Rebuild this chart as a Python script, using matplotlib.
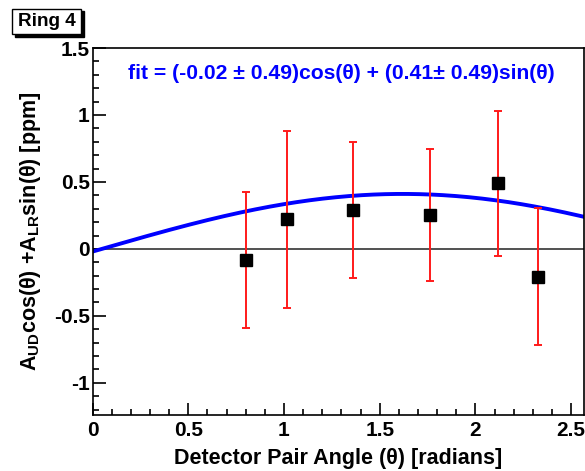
import numpy as np
import matplotlib
matplotlib.use("Agg")
import matplotlib.pyplot as plt
from matplotlib.patches import Rectangle
from matplotlib.ticker import FixedLocator, FixedFormatter, MultipleLocator

# ---- data ----
angles = [0.80, 1.014, 1.362, 1.762, 2.116, 2.328]
values = [-0.082, 0.22, 0.29, 0.254, 0.49, -0.207]
errors = [0.51, 0.66, 0.51, 0.49, 0.54, 0.51]
a_ud, a_ud_err = -0.02, 0.49
a_lr, a_lr_err = 0.41, 0.49
ytick_vals = [-1, -0.5, 0, 0.5, 1, 1.5]
ytick_labels = ['-1', '-0.5', '0', '0.5', '1', '1.5']
xtick_vals = [0, 0.5, 1, 1.5, 2, 2.5]
xtick_labels = ['0', '0.5', '1', '1.5', '2', '2.5']
xlim = (0, 2.567)
ylim = (-1.24, 1.5)

plt.rcParams['font.family'] = ['Liberation Sans', 'DejaVu Sans']
plt.rcParams['mathtext.fontset'] = 'custom'
plt.rcParams['mathtext.rm'] = 'Liberation Sans:bold'
plt.rcParams['mathtext.it'] = 'Liberation Sans:bold'
plt.rcParams['mathtext.bf'] = 'Liberation Sans:bold'

W, H = 585, 471
fig = plt.figure(figsize=(W / 100, H / 100), dpi=100)
L, R, T, B = 92.5, 584, 48, 415
ax = fig.add_axes([L / W, 1 - B / H, (R - L) / W, (B - T) / H])
ax.set_xlim(*xlim)
ax.set_ylim(*ylim)

# zero line
ax.axhline(0, color='#333333', lw=1.2, zorder=1)

# fit curve
xf = np.linspace(xlim[0], xlim[1], 300)
yf = a_ud * np.cos(xf) + a_lr * np.sin(xf)
ax.plot(xf, yf, color='#0000ff', lw=2.8, zorder=2)

# data points
ax.errorbar(angles, values, yerr=errors, fmt='none', ecolor='#ff1a1a',
            elinewidth=1.4, capsize=2.6, capthick=1.4, zorder=3)
ax.plot(angles, values, 's', color='black', ms=8.5, zorder=4)

# fit label
ax.text(0.185, 1.31,
        'fit = (%.2f \u00b1 %.2f)cos(\u03b8) + (%.2f\u00b1 %.2f)sin(\u03b8)'
        % (a_ud, a_ud_err, a_lr, a_lr_err),
        color='#0000ff', fontsize=15.2, fontweight='bold', va='center', ha='left')

# axes styling
for s in ax.spines.values():
    s.set_linewidth(1.2)
    s.set_color('black')
ax.xaxis.set_major_locator(FixedLocator(xtick_vals))
ax.xaxis.set_major_formatter(FixedFormatter(xtick_labels))
ax.yaxis.set_major_locator(FixedLocator(ytick_vals))
ax.yaxis.set_major_formatter(FixedFormatter(ytick_labels))
ax.xaxis.set_minor_locator(MultipleLocator(0.1))
ax.yaxis.set_minor_locator(MultipleLocator(0.1))
ax.tick_params(axis='both', which='both', direction='in', top=False, right=False,
               width=1.2, colors='black')
ax.tick_params(axis='x', which='major', length=9, pad=4, labelsize=15)
ax.tick_params(axis='x', which='minor', length=4.5)
ax.tick_params(axis='y', which='major', length=9, pad=2, labelsize=15)
ax.tick_params(axis='y', which='minor', length=4.5)
for lab in ax.get_xticklabels() + ax.get_yticklabels():
    lab.set_fontweight('bold')

ax.set_xlabel('Detector Pair Angle (\u03b8) [radians]', fontsize=15.5,
              fontweight='bold', labelpad=6)
ax.set_ylabel(r'A$_{\mathrm{UD}}$cos(' + '\u03b8' + r') +A$_{\mathrm{LR}}$sin(' + '\u03b8' + ') [ppm]',
              fontsize=15.5, fontweight='bold', labelpad=8)

# "Ring 4" box with shadow
fig.patches.append(Rectangle((15 / W, 1 - 37 / H), 69 / W, 26 / H,
                             transform=fig.transFigure, facecolor='black',
                             edgecolor='black', zorder=5))
fig.patches.append(Rectangle((12 / W, 1 - 34 / H), 69 / W, 25 / H,
                             transform=fig.transFigure, facecolor='white',
                             edgecolor='black', lw=1.0, zorder=6))
fig.text(46.5 / W, 1 - 21.5 / H, 'Ring 4', fontsize=13.6, fontweight='bold',
         ha='center', va='center', zorder=7)

fig.savefig('out.png', dpi=100)
